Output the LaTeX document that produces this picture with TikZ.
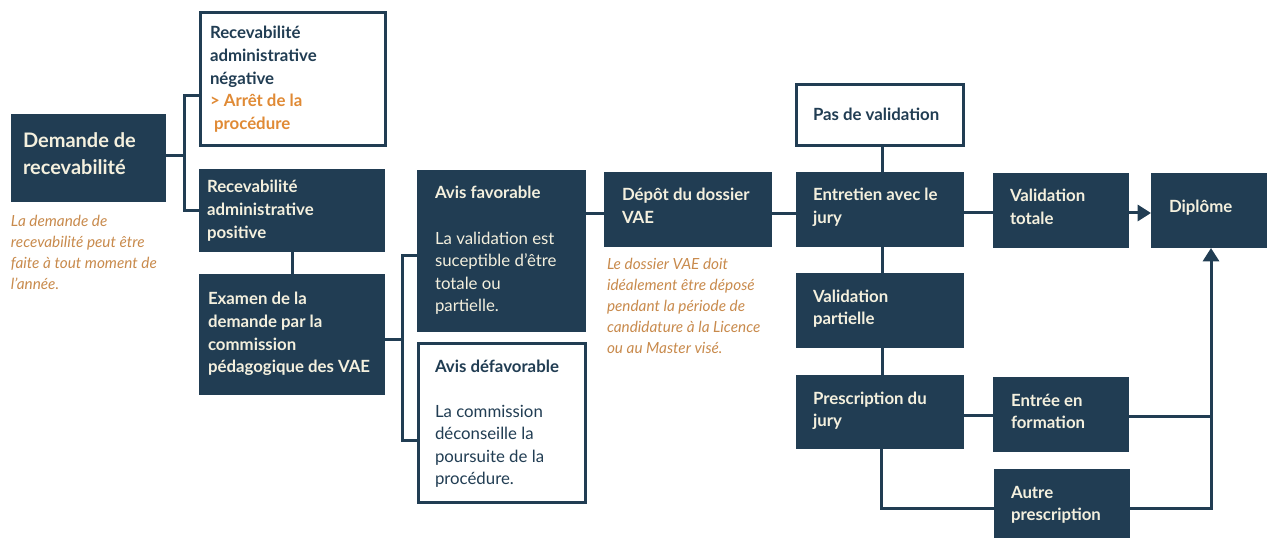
\documentclass[tikz,border=0pt]{standalone}
\usepackage{fontspec}
\setmainfont{Lato}
\usetikzlibrary{arrows.meta}
\definecolor{navy}{HTML}{213D53}
\definecolor{cream}{HTML}{F4F0DE}
\definecolor{orng}{HTML}{E08A35}
\definecolor{notec}{HTML}{C88A4C}
\newcommand\bxf{\fontsize{12.6pt}{16.9pt}\selectfont}
\newcommand\bigf{\fontsize{15pt}{19.6pt}\selectfont}
\newcommand\ntf{\fontsize{11.5pt}{15.6pt}\selectfont}
\newcommand\mlines[1]{\begin{tabular}[t]{@{}l@{}}#1\end{tabular}}
\begin{document}
\begin{tikzpicture}[x=0.75pt,y=-0.75pt,
  dbox/.style 2 args={fill=navy, draw=none, inner sep=0, outer sep=0, anchor=north west,
    minimum width=#1*0.75pt, minimum height=#2*0.75pt},
  wbox/.style 2 args={fill=white, draw=navy, line width=2.25pt, inner sep=0, outer sep=0, anchor=north west,
    minimum width=#1*0.75pt, minimum height=#2*0.75pt},
  conn/.style={draw=navy, line width=2.25pt},
  tip/.style={-{Triangle[length=10pt,width=12pt]}},
  txt/.style={anchor=base west, inner sep=0, outer sep=0},
  tb/.style={txt, font=\bxf\bfseries, text=cream},
  tbn/.style={txt, font=\bxf\bfseries, text=navy},
  tr/.style={txt, font=\bxf, text=cream},
  trn/.style={txt, font=\bxf, text=navy},
  tnote/.style={txt, font=\ntf\itshape, text=notec}
]
\useasboundingbox (0,0) rectangle (1267,538);

% boxes
\node[dbox={155}{88}] (dem) at (11,114) {};
\node[wbox={185}{133}] (neg) at (200.5,12.5) {};
\node[dbox={186}{83}] (pos) at (199,169) {};
\node[dbox={186}{121}] (exa) at (199,274) {};
\node[dbox={169}{162}] (fav) at (417,170) {};
\node[wbox={167}{159}] (def) at (418.5,343.5) {};
\node[dbox={168}{75}] (dep) at (604,172) {};
\node[wbox={167}{61}] (pas) at (796.5,84.5) {};
\node[dbox={168}{75}] (ent) at (796,172) {};
\node[dbox={136}{75}] (vt) at (993,173) {};
\node[dbox={116}{75}] (dip) at (1151,173) {};
\node[dbox={168}{75}] (vp) at (796,273) {};
\node[dbox={168}{74}] (pre) at (796,375) {};
\node[dbox={136}{75}] (ef) at (993,377) {};
\node[dbox={136}{75}] (ap) at (994,469) {};

% connectors
\coordinate (j1) at (184,156);
\coordinate (a1) at (184,96);
\coordinate (a2) at (184,211);
\draw[conn] (dem.east |- j1) -- (j1);
\draw[conn] (neg.west |- a1) -- (a1) -- (a2) -- (pos.west |- a2);
\draw[conn] (pos.south) -- (exa.north);
\coordinate (b0) at (402,339);
\coordinate (b1) at (402,256);
\coordinate (b2) at (402,440);
\draw[conn] (exa.east |- b0) -- (b0);
\draw[conn] (fav.west |- b1) -- (b1) -- (b2) -- (def.west |- b2);
\coordinate (c0) at (0,214);
\draw[conn] (fav.east |- c0) -- (dep.west |- c0);
\draw[conn] (dep.east |- c0) -- (ent.west |- c0);
\coordinate (c1) at (0,213);
\draw[conn] (ent.east |- c1) -- (vt.west |- c1);
\draw[conn,tip] (vt.east |- c1) -- (dip.west |- c1);
\coordinate (v) at (882,0);
\draw[conn] (pas.south -| v) -- (ent.north -| v);
\draw[conn] (ent.south -| v) -- (vp.north -| v);
\draw[conn] (vp.south -| v) -- (pre.north -| v);
\coordinate (d0) at (0,415);
\draw[conn] (pre.east |- d0) -- (ef.west |- d0);
\coordinate (e0) at (881,508);
\draw[conn] (pre.south -| e0) -- (e0) -- (ap.west |- e0);
\coordinate (k) at (1211,508);
\coordinate (d1) at (1211,416);
\draw[conn] (ef.east |- d1) -- (d1);
\draw[conn,tip] (ap.east |- k) -- (k) -- (dip.south -| k);

% texts
\node[txt, font=\bigf\bfseries, text=cream] (tdem) at (23,148) {\mlines{Demande de\\recevabilité}};
\node[tbn] (tneg) at (210,39) {\mlines{Recevabilité\\administrative\\négative\\\textcolor{orng}{> Arrêt de la}\\\textcolor{orng}{\ procédure}}};
\node[tb] (tpos) at (207,193) {\mlines{Recevabilité\\administrative\\positive}};
\node[tb] (texa) at (208,305) {\mlines{Examen de la\\demande par la\\commission\\pédagogique des VAE}};
\node[tr] (tfav) at (435,199) {\mlines{\textbf{Avis favorable}\\[16.9pt]La validation est\\suceptible d’être\\totale ou\\partielle.}};
\node[trn] (tdef) at (435,372) {\mlines{\textbf{Avis défavorable}\\[16.9pt]La commission\\déconseille la\\poursuite de la\\procédure.}};
\node[tb] (tdep) at (622,201) {\mlines{Dépôt du dossier\\VAE}};
\node[tbn] (tpas) at (813,121) {Pas de validation};
\node[tb] (tent) at (813,201) {\mlines{Entretien avec le\\jury}};
\node[tb] (tvt) at (1010,202) {\mlines{Validation\\totale}};
\node[tb] (tdip) at (1169,213) {Diplôme};
\node[tb] (tvp) at (813,302) {\mlines{Validation\\partielle}};
\node[tb] (tpre) at (813,404) {\mlines{Prescription du\\jury}};
\node[tb] (tef) at (1011,406) {\mlines{Entrée en\\formation}};
\node[tb] (tap) at (1011,498) {\mlines{Autre\\prescription}};
\node[tnote] (n1) at (11,227) {\mlines{La demande de\\recevabilité peut être\\faite à tout moment de\\l’année.}};
\node[tnote] (n2) at (607,270) {\mlines{Le dossier VAE doit\\idéalement être déposé\\pendant la période de\\candidature à la Licence\\ou au Master visé.}};
\end{tikzpicture}
\end{document}
